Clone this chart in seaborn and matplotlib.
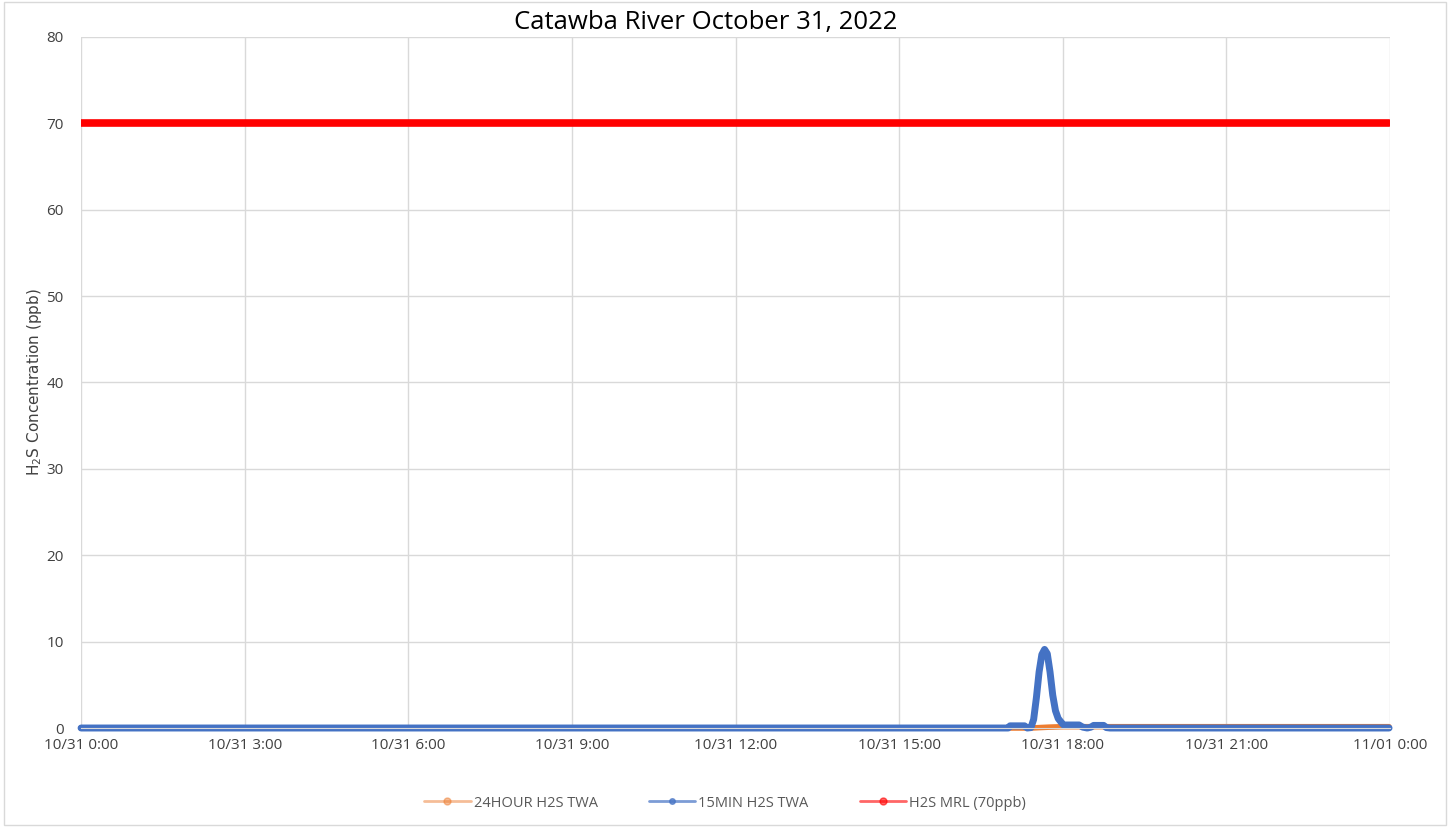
import numpy as np
import pandas as pd
import matplotlib.pyplot as plt
import matplotlib.dates as mdates
from matplotlib.lines import Line2D
from matplotlib.patches import Rectangle
import seaborn as sns

day = '2022-10-31 '

# 15-minute TWA (ppb) - flat at zero except for the event around 17:40
min15_times = ['00:00', '16:55', '17:00', '17:02', '17:18', '17:21', '17:25', '17:28',
               '17:31', '17:34', '17:37', '17:40', '17:43', '17:46', '17:49', '17:52',
               '17:55', '17:58', '18:01', '18:18', '18:22', '18:27', '18:31', '18:34',
               '18:45', '18:48', '18:52', '23:59']
min15_vals = [0.0, 0.0, 0.0, 0.25, 0.25, 0.0, 0.05, 1.0,
              3.5, 6.5, 8.5, 9.1, 8.6, 6.5, 3.8, 2.0,
              1.1, 0.7, 0.35, 0.35, 0.1, 0.0, 0.1, 0.3,
              0.3, 0.05, 0.0, 0.0]

# 24-hour TWA (ppb)
hr24_times = ['00:00', '17:25', '17:45', '18:00', '23:59']
hr24_vals = [0.0, 0.0, 0.1, 0.15, 0.15]

# MRL
mrl_times = ['00:00', '23:59']
mrl_vals = [70, 70]

c_orange = '#ed7d31'
c_blue = '#4472c4'
c_red = '#ff0000'

df24 = pd.DataFrame({'time': pd.to_datetime([day + t for t in hr24_times]), 'ppb': hr24_vals})
df15 = pd.DataFrame({'time': pd.to_datetime([day + t for t in min15_times]), 'ppb': min15_vals})
dfm = pd.DataFrame({'time': pd.to_datetime([day + t for t in mrl_times]), 'ppb': mrl_vals})

sns.set_style('white')
plt.rcParams['font.family'] = ['Open Sans', 'DejaVu Sans']

fig = plt.figure(figsize=(14.5, 8.27), dpi=100)
ax = fig.add_axes([0.0559, 0.1197, 0.9027, 0.8356])

sns.lineplot(data=df24, x='time', y='ppb', color=c_orange, linewidth=4, ax=ax, clip_on=False)
sns.lineplot(data=df15, x='time', y='ppb', color=c_blue, linewidth=5, ax=ax, clip_on=False)
sns.lineplot(data=dfm, x='time', y='ppb', color=c_red, linewidth=5.5, ax=ax)

ax.set_xlim(pd.Timestamp('2022-10-31 00:00'), pd.Timestamp('2022-11-01 00:00'))
ax.set_ylim(0, 80)
ax.set_yticks(range(0, 81, 10))
ax.xaxis.set_major_locator(mdates.HourLocator(byhour=range(0, 24, 3)))


def fmt(x, pos):
    d = mdates.num2date(x)
    return f'{d.month}/{d.day:02d} {d.hour}:{d.minute:02d}'


ax.xaxis.set_major_formatter(plt.FuncFormatter(fmt))
ax.grid(True, color='#d9d9d9', linewidth=1)
ax.set_axisbelow(True)
for s in ['top', 'right', 'left']:
    ax.spines[s].set_visible(False)
ax.spines['bottom'].set_color('#d9d9d9')
ax.tick_params(axis='both', length=0, labelsize=11, colors='#404040')
ax.tick_params(axis='y', pad=12.5)
ax.tick_params(axis='x', pad=7)
ax.set_xlabel('')
ax.set_ylabel('H$_2$S Concentration (ppb)', fontsize=11, color='#404040',
              family=['Liberation Sans Narrow', 'DejaVu Sans'], labelpad=2)
fig.text(0.487, 0.973, 'Catawba River October 31, 2022', fontsize=18.5,
         color='#000000', ha='center', va='center')

handles = [
    Line2D([0], [0], color=c_orange, alpha=0.5, lw=2, marker='o', markersize=5,
           markerfacecolor=c_orange, markeredgecolor=c_orange),
    Line2D([0], [0], color=c_blue, alpha=0.7, lw=2, marker='o', markersize=4,
           markerfacecolor=c_blue, markeredgecolor=c_blue),
    Line2D([0], [0], color=c_red, alpha=0.6, lw=2, marker='o', markersize=5,
           markerfacecolor=c_red, markeredgecolor=c_red),
]
fig.legend(handles, ['24HOUR H2S TWA', '15MIN H2S TWA', 'H2S MRL (70ppb)'],
           loc='center', bbox_to_anchor=(0.5, 0.029), ncol=3, frameon=False,
           fontsize=10.5, labelcolor='#595959', handlelength=3.2, columnspacing=3.5,
           handletextpad=0.2)

fig.patches.append(Rectangle((0.003, 0.003), 0.994, 0.994, transform=fig.transFigure,
                             fill=False, edgecolor='#d9d9d9', linewidth=1))

fig.savefig('out.png', dpi=100)
